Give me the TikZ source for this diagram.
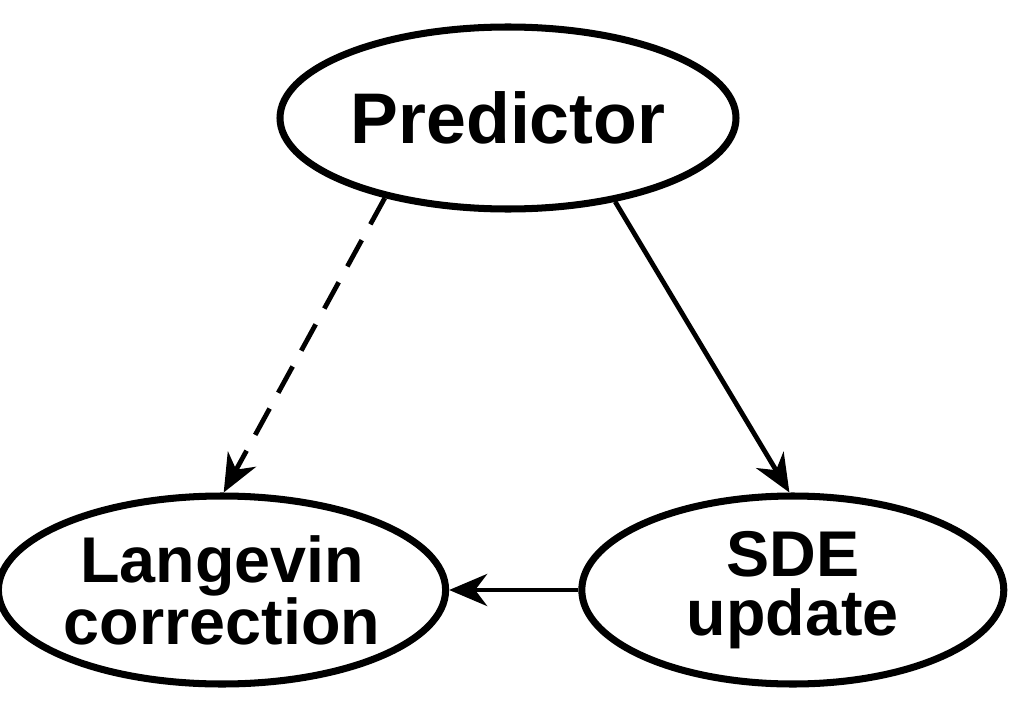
\documentclass[tikz,border=0pt]{standalone}
\usepackage{fontspec}
\setmainfont{Liberation Sans}
\usetikzlibrary{shapes.geometric,arrows.meta}
\begin{document}
\begin{tikzpicture}[
		stage/.style={draw, ellipse, line width=5pt, inner sep=0pt, align=center, font=\bfseries\fontsize{46}{42}\selectfont},
		flow/.style={line width=3.4pt, -{Stealth[length=0.95cm, width=0.8cm, inset=0.3cm]}}]
				\useasboundingbox (0,0) rectangle (25.6,-17.9);
				\node[stage, minimum width=11.4cm, minimum height=4.55cm, font=\bfseries\fontsize{51}{60}\selectfont] (pred) at (12.7,-2.95) {Predictor};
				\node[stage, minimum width=10.8cm, minimum height=4.7cm] (lang) at (5.55,-14.75) {Langevin\\correction};
				\node[stage, minimum width=10.55cm, minimum height=4.7cm] (sde) at (19.82,-14.75) {SDE\\update};
				\draw[flow, dash pattern=on 0.75cm off 0.45cm] (pred.213) -- (lang.89);
				\draw[flow] (pred.322) -- (sde.92);
				\draw[flow] (sde.west) -- (lang.east);
			\end{tikzpicture}
\end{document}
